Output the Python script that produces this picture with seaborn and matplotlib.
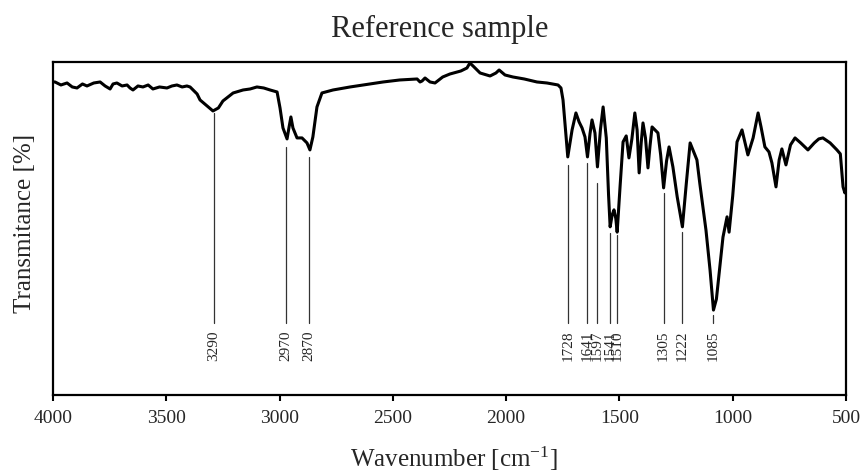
import numpy as np
import pandas as pd
import matplotlib
matplotlib.use('Agg')
import matplotlib.pyplot as plt
import seaborn as sns

# FTIR spectrum (wavenumber in cm-1, transmittance in arbitrary %)
wavenumber = [4000, 3991, 3965, 3938, 3915, 3894, 3870, 3850, 3820, 3792, 3770, 3748, 3735,
              3718, 3695, 3673, 3660, 3647, 3625, 3603, 3580, 3559, 3530, 3497, 3475, 3453,
              3430, 3409, 3395, 3364, 3351, 3320, 3294, 3270, 3250, 3205, 3161, 3130, 3100,
              3070, 3042, 3011, 2998, 2985, 2967, 2958, 2950, 2941, 2923, 2901, 2879, 2866,
              2853, 2835, 2813, 2764, 2689, 2600, 2543, 2470, 2393, 2380, 2371, 2358, 2336,
              2314, 2280, 2248, 2200, 2173, 2160, 2146, 2115, 2071, 2045, 2031, 2005, 1970,
              1920, 1864, 1820, 1771, 1758, 1749, 1736, 1728, 1718, 1709, 1692, 1678, 1665,
              1652, 1641, 1630, 1621, 1608, 1597, 1584, 1572, 1558, 1548, 1541, 1532, 1524,
              1516, 1510, 1497, 1484, 1470, 1458, 1445, 1432, 1422, 1413, 1404, 1396, 1385,
              1374, 1365, 1356, 1343, 1330, 1318, 1305, 1292, 1281, 1264, 1245, 1222, 1205,
              1188, 1158, 1145, 1118, 1100, 1085, 1072, 1060, 1043, 1025, 1016, 1000, 981,
              959, 933, 910, 888, 875, 858, 840, 827, 809, 795, 783, 765, 745, 725, 700, 668,
              640, 620, 602, 570, 540, 525, 513, 505, 500]
transmittance = [94.0, 94.0, 93.1, 93.7, 92.5, 92.2, 93.4, 92.8, 93.7, 94.0, 92.8, 91.9, 93.4,
                 93.7, 92.8, 93.1, 92.2, 91.6, 92.8, 92.5, 93.1, 91.9, 92.5, 92.2, 92.8, 93.1,
                 92.5, 92.8, 92.5, 90.4, 88.6, 86.8, 85.3, 86.2, 88.3, 90.7, 91.6, 91.9, 92.5,
                 92.2, 91.6, 91.0, 86.2, 80.2, 76.9, 80.5, 83.5, 80.2, 77.2, 77.2, 75.7, 73.6,
                 77.5, 86.5, 90.7, 91.6, 92.5, 93.4, 94.0, 94.6, 94.9, 94.0, 94.3, 95.2, 94.0,
                 93.7, 95.5, 96.4, 97.3, 98.2, 99.7, 98.8, 96.7, 95.8, 96.7, 97.6, 96.1, 95.5,
                 94.9, 94.0, 93.7, 93.1, 92.2, 88.6, 78.1, 71.5, 75.7, 79.6, 84.7, 82.0, 80.2,
                 77.5, 71.5, 78.4, 82.6, 78.7, 68.5, 79.6, 86.5, 77.2, 60.1, 50.5, 54.1, 55.6,
                 53.0, 48.9, 62.8, 76.0, 77.8, 71.2, 76.9, 84.7, 79.6, 66.7, 75.7, 81.7, 77.2,
                 68.2, 74.8, 80.5, 79.6, 78.7, 72.1, 62.2, 70.3, 74.5, 68.5, 59.5, 50.5, 63.4,
                 75.7, 70.6, 63.4, 49.5, 37.5, 25.5, 28.8, 36.4, 47.4, 53.5, 48.9, 59.8, 76.0,
                 79.6, 72.1, 77.2, 84.7, 80.5, 74.5, 73.0, 69.7, 62.5, 70.6, 73.9, 69.1, 75.1,
                 77.2, 75.7, 73.6, 75.7, 76.9, 77.2, 75.7, 73.6, 72.4, 62.5, 60.7, 61.6]

# Labelled bands: position and transmittance where the marker line starts
peak_wn = [3290, 2970, 2870, 1728, 1641, 1597, 1541, 1510, 1305, 1222, 1085]
peak_top = [84.7, 74.5, 71.5, 69.1, 69.7, 63.7, 48.6, 48.0, 60.7, 48.9, 24.0]
peak_bottom = 21.6
label_top = 19.4

xticks = [4000, 3500, 3000, 2500, 2000, 1500, 1000, 500]

df = pd.DataFrame({'Wavenumber': wavenumber, 'Transmittance': transmittance})

sns.set_style('ticks')
plt.rcParams['font.family'] = ['Liberation Serif', 'DejaVu Serif']
plt.rcParams['mathtext.fontset'] = 'custom'
plt.rcParams['mathtext.rm'] = 'Liberation Serif'
plt.rcParams['mathtext.it'] = 'Liberation Serif:italic'

fig = plt.figure(figsize=(8.6, 4.72), dpi=100)
ax = fig.add_axes([53 / 860, 77 / 472, 793 / 860, 333 / 472])

sns.lineplot(data=df, x='Wavenumber', y='Transmittance', color='black', linewidth=2.2,
             sort=False, estimator=None, ax=ax)

for wn, top in zip(peak_wn, peak_top):
    ax.plot([wn, wn], [top, peak_bottom], color='#333333', linewidth=0.9)
    ax.text(wn, label_top, str(wn), rotation=90, ha='center', va='top', fontsize=11)

ax.set_xlim(4000, 500)
ax.set_ylim(0, 100)
ax.set_xticks(xticks)
ax.set_xticklabels([str(t) for t in xticks], fontsize=14)
ax.set_yticks([])
ax.tick_params(axis='x', direction='out', length=4.5, width=1.5, pad=6, color='black')

for side in ['top', 'bottom', 'left', 'right']:
    ax.spines[side].set_visible(True)
    ax.spines[side].set_linewidth(1.6)
    ax.spines[side].set_color('black')

ax.set_xlabel(r'Wavenumber [cm$^{-1}$]', fontsize=18)
ax.set_ylabel('Transmitance [%]', fontsize=18)
ax.xaxis.set_label_coords(0.505, -0.15)
ax.yaxis.set_label_coords(-0.022, 0.515)

fig.text(440 / 860, (472 - 37) / 472, 'Reference sample', ha='center', va='baseline',
         fontsize=22)

plt.savefig('out.png', dpi=100)
